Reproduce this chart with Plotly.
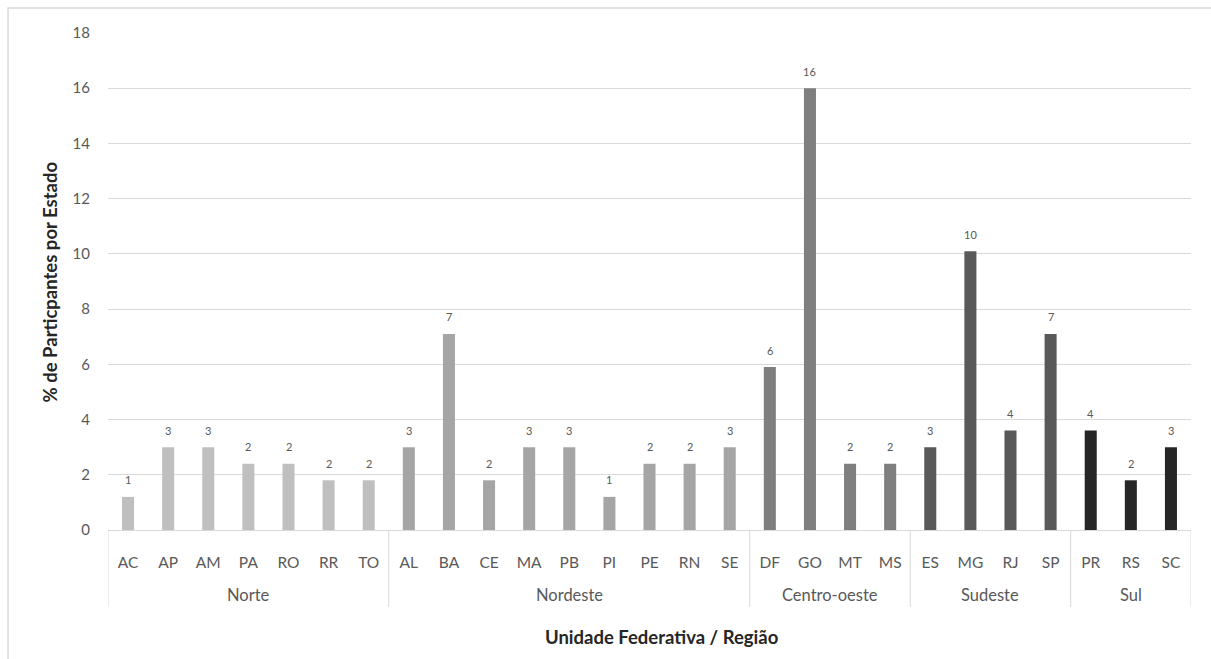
import plotly.graph_objects as go

# Participantes (%) por unidade federativa, agrupados por região
estados = ["AC", "AP", "AM", "PA", "RO", "RR", "TO",
           "AL", "BA", "CE", "MA", "PB", "PI", "PE", "RN", "SE",
           "DF", "GO", "MT", "MS",
           "ES", "MG", "RJ", "SP",
           "PR", "RS", "SC"]
percentuais = [1.2, 3.0, 3.0, 2.4, 2.4, 1.8, 1.8,
               3.0, 7.1, 1.8, 3.0, 3.0, 1.2, 2.4, 2.4, 3.0,
               5.9, 16.0, 2.4, 2.4,
               3.0, 10.1, 3.6, 7.1,
               3.6, 1.8, 3.0]
regioes = ["Norte", "Nordeste", "Centro-oeste", "Sudeste", "Sul"]
estados_por_regiao = [7, 9, 4, 4, 3]
cores_regiao = ["#bfbfbf", "#a5a5a5", "#7f7f7f", "#595959", "#262626"]

FONTE = "Lato, 'Open Sans', sans-serif"
CINZA_TEXTO = "#595959"
CINZA_LINHA = "#d9d9d9"

# cor de cada barra conforme a região
cores = []
for cor, n in zip(cores_regiao, estados_por_regiao):
    cores += [cor] * n

fig = go.Figure()
fig.add_trace(go.Bar(
    x=estados, y=percentuais,
    marker=dict(color=cores, line=dict(width=0)),
    hoverinfo="x+y",
))

# rótulos de valor acima das barras (valor arredondado)
for est, v in zip(estados, percentuais):
    fig.add_annotation(
        x=est, y=v, xref="x", yref="y",
        text=f"{v:.0f}", showarrow=False,
        yanchor="middle", yshift=17,
        font=dict(family=FONTE, size=11, color=CINZA_TEXTO),
    )

# nomes das regiões e divisórias entre grupos
Y_REGIAO = -0.131
Y_DIVISOR = -0.155
inicio = 0
fig.add_shape(type="line", xref="x", yref="paper", x0=-0.5, x1=-0.5,
              y0=0, y1=Y_DIVISOR, line=dict(color=CINZA_LINHA, width=1))
for nome, n in zip(regioes, estados_por_regiao):
    centro = inicio + (n - 1) / 2
    fim = inicio + n - 0.5
    fig.add_annotation(
        x=centro, y=Y_REGIAO, xref="x", yref="paper",
        text=nome, showarrow=False, yanchor="middle",
        font=dict(family=FONTE, size=16.5, color=CINZA_TEXTO),
    )
    fig.add_shape(type="line", xref="x", yref="paper", x0=fim, x1=fim,
                  y0=0, y1=Y_DIVISOR, line=dict(color=CINZA_LINHA, width=1))
    inicio += n

# títulos dos eixos
fig.add_annotation(
    x=0.5115, y=-0.2153, xref="paper", yref="paper",
    text="<b>Unidade Federativa / Região</b>", showarrow=False,
    yanchor="middle", font=dict(family=FONTE, size=18.5, color="#262626"),
)
fig.add_annotation(
    x=-0.0536, y=0.5, xref="paper", yref="paper",
    text="<b>% de Particpantes por Estado</b>", showarrow=False,
    textangle=-90, xanchor="center", yanchor="middle",
    font=dict(family=FONTE, size=18.5, color="#262626"),
)

# moldura do gráfico
fig.add_shape(type="rect", xref="paper", yref="paper",
              x0=-0.0923, x1=1.03, y0=-0.28, y1=1.0503,
              line=dict(color=CINZA_LINHA, width=1.5), layer="below")

fig.update_layout(
    width=1211, height=659,
    margin=dict(l=108, r=20, t=33, b=129),
    paper_bgcolor="white", plot_bgcolor="white",
    bargap=0.7, showlegend=False,
    font=dict(family=FONTE, color=CINZA_TEXTO),
)
fig.update_xaxes(
    type="category", showgrid=False, zeroline=False,
    showline=True, linecolor=CINZA_LINHA, linewidth=1,
    ticks="outside", ticklen=18, tickcolor="rgba(0,0,0,0)",
    tickfont=dict(family=FONTE, size=15.5, color=CINZA_TEXTO),
    range=[-0.5, len(estados) - 0.5],
)
fig.update_yaxes(
    range=[0, 18], dtick=2, showgrid=True, gridcolor=CINZA_LINHA, gridwidth=1,
    zeroline=False, showline=False,
    ticks="outside", ticklen=14, tickcolor="rgba(0,0,0,0)",
    tickfont=dict(family=FONTE, size=15, color=CINZA_TEXTO),
)

fig.write_html("out.html")
